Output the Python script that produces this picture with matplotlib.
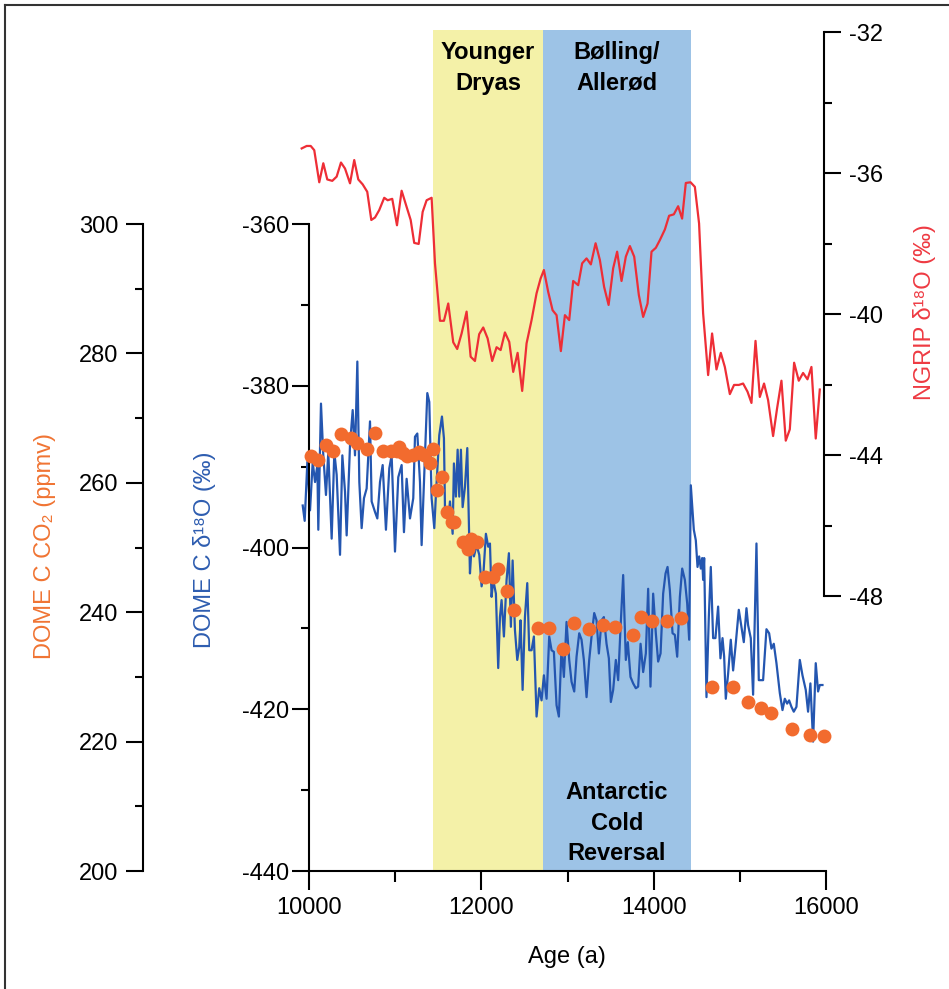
import matplotlib
matplotlib.use('Agg')
import matplotlib.pyplot as plt
from matplotlib.lines import Line2D

plt.rcParams['font.family'] = ['Liberation Sans', 'DejaVu Sans']
plt.rcParams['axes.unicode_minus'] = False

# DOME C d18O (blue line)
blue_age = [9927, 9950, 9981, 10012, 10043, 10070, 10097, 10108, 10139, 10166,
            10197, 10224, 10263, 10294, 10321, 10360, 10387, 10418, 10437, 10476,
            10507, 10534, 10561, 10584, 10611, 10638, 10669, 10708, 10727, 10766,
            10793, 10824, 10855, 10893, 10932, 10959, 10998, 11036, 11075, 11102,
            11133, 11172, 11210, 11230, 11257, 11288, 11307, 11338, 11373, 11396,
            11423, 11454, 11473, 11512, 11543, 11566,
            11578, 11616, 11636, 11667, 11682, 11705, 11725, 11744, 11763, 11783,
            11810, 11837, 11868, 11887, 11914, 11945, 11976, 12003, 12022, 12053,
            12080, 12100, 12119, 12138, 12169, 12196, 12216, 12235, 12262, 12293,
            12320, 12343, 12363, 12390, 12417, 12440, 12455, 12479, 12506, 12533,
            12556, 12583, 12610, 12641, 12672, 12699, 12726, 12757, 12788, 12815,
            12842, 12873, 12900, 12931, 12958, 12989, 13020, 13047, 13078, 13105,
            13136, 13163, 13190, 13221, 13252, 13279, 13310, 13337, 13364, 13395,
            13422, 13453, 13480, 13503, 13530, 13561, 13588, 13616, 13646, 13677,
            13700, 13731, 13762, 13793, 13820, 13848, 13878, 13909, 13936, 13963,
            13994, 14025, 14052, 14080, 14110, 14138, 14161, 14188, 14219, 14246,
            14273, 14304, 14331, 14362, 14389, 14412, 14431,
            14466, 14489, 14509, 14528, 14547, 14563, 14574, 14586, 14613, 14640,
            14663, 14690, 14717, 14748, 14775, 14799, 14818, 14837, 14864, 14895,
            14922, 14949, 14988, 15019, 15046, 15077, 15096, 15127, 15154, 15193,
            15220, 15270, 15309, 15340, 15367, 15394, 15425, 15464, 15495, 15522,
            15549, 15572, 15599, 15626, 15657, 15696, 15727, 15765, 15792, 15819,
            15850, 15881, 15908, 15928, 15959]
blue_d18o = [-394.8, -396.7, -389.4, -395.4, -389.4, -391.9, -389.8, -397.8, -382.2, -388.6,
             -393.5, -388.2, -398.9, -388.2, -391.0, -400.9, -388.6, -393.1, -398.5, -387.3,
             -383.0, -388.6, -377.0, -391.9, -397.6, -393.9, -392.7, -384.4, -394.3, -395.6,
             -396.4, -391.9, -389.8, -397.8, -390.2, -388.6, -400.5, -391.3, -389.8, -398.1,
             -391.5, -396.4, -393.9, -386.3, -385.9, -391.9, -399.7, -391.0, -380.9, -382.0,
             -393.9, -397.6, -393.5, -386.1, -383.8, -386.5,
             -395.0, -396.6, -394.3, -398.3, -389.6, -393.7, -387.9, -393.7, -387.9, -395.0,
             -392.5, -387.7, -403.2, -399.9, -401.1, -399.7, -400.9, -404.8, -403.6, -398.3,
             -399.9, -399.5, -406.1, -404.0, -405.7, -414.9, -408.6, -406.5, -411.0, -404.0,
             -400.7, -409.8, -401.6, -410.2, -413.9, -412.3, -409.0, -417.6, -408.6, -404.4,
             -412.7, -412.7, -411.0, -420.9, -417.4, -418.9, -415.8, -418.7, -411.0, -412.7,
             -412.9, -419.5, -420.9, -412.3, -416.0, -409.2, -413.9, -416.6, -417.8, -413.5,
             -410.6, -411.4, -413.9, -418.5, -413.9, -411.0, -408.1, -409.0, -413.1, -409.0,
             -408.6, -411.9, -413.7, -419.1, -417.6, -413.9, -416.4, -409.8, -403.4, -413.9,
             -411.7, -416.0, -416.8, -417.4, -417.2, -411.9, -415.4, -413.1, -405.1, -417.2,
             -405.7, -410.6, -414.1, -413.1, -405.7, -403.2, -402.4, -405.3, -410.6, -410.8,
             -413.5, -406.1, -402.6, -404.0, -406.9, -411.4, -392.3,
             -397.8, -399.1, -402.4, -401.1, -402.6, -401.3, -404.0, -401.3, -418.5, -408.6,
             -402.4, -411.2, -411.2, -407.3, -413.7, -411.2, -413.5, -418.7, -415.6, -411.4,
             -415.2, -412.3, -407.7, -409.8, -411.7, -407.5, -409.6, -411.2, -418.2, -399.5,
             -416.4, -416.4, -410.1, -410.6, -412.5, -411.9, -414.3, -418.0, -420.1, -418.7,
             -419.3, -418.9, -419.7, -420.3, -419.7, -413.9, -415.8, -417.6, -420.3, -416.8,
             -424.0, -414.3, -417.8, -417.0, -417.0]

# NGRIP d18O (red line)
ngrip_age = [9915, 9973, 10020, 10061, 10119, 10166, 10212, 10270, 10321, 10371,
             10418, 10476, 10525, 10572, 10623, 10676, 10723, 10766, 10815, 10873,
             10913, 10966, 11021, 11075, 11133, 11180, 11221, 11273, 11319, 11365,
             11423, 11462, 11520, 11566, 11616, 11674, 11720, 11771, 11829, 11876,
             11926, 11975, 12022, 12073, 12126, 12177, 12224, 12274, 12324, 12370,
             12421, 12474, 12525, 12583, 12641, 12688, 12726, 12776, 12827, 12873,
             12923, 12970, 13020, 13066, 13124, 13170, 13221, 13271, 13326, 13376,
             13425, 13477, 13530, 13576, 13627, 13677, 13724, 13774, 13828, 13878,
             13929, 13975, 14025, 14072, 14130, 14179, 14234, 14284, 14330, 14373,
             14428, 14478, 14527, 14574, 14632, 14678, 14729, 14779, 14826, 14884,
             14933, 14988, 15038, 15089, 15135, 15182, 15232, 15281, 15328, 15386,
             15432, 15483, 15533, 15580, 15630, 15684, 15734, 15785, 15831, 15881,
             15928]
ngrip_d18o = [-35.30, -35.23, -35.23, -35.35, -36.26, -35.72, -36.18, -36.22, -36.10, -35.70,
              -35.87, -36.29, -35.63, -36.18, -36.32, -36.53, -37.33, -37.26, -37.05, -36.70,
              -36.77, -36.73, -37.48, -36.50, -36.96, -37.33, -37.98, -38.01, -37.10, -36.77,
              -36.70, -38.56, -40.19, -40.19, -39.70, -40.80, -40.99, -40.55, -39.93, -41.21,
              -41.33, -40.57, -40.38, -40.69, -41.33, -40.94, -41.02, -40.52, -40.79, -41.64,
              -41.10, -42.18, -40.83, -40.17, -39.41, -38.99, -38.75, -39.37, -39.89, -40.03,
              -41.05, -40.03, -40.17, -39.06, -39.18, -38.56, -38.42, -38.59, -37.99, -38.47,
              -39.23, -39.74, -38.70, -38.23, -39.06, -38.37, -38.07, -38.37, -39.46, -40.08,
              -39.70, -38.23, -38.12, -37.90, -37.60, -37.21, -37.17, -36.94, -37.29, -36.28,
              -36.26, -36.39, -37.43, -39.98, -41.73, -40.55, -41.57, -41.10, -41.50, -42.27,
              -42.01, -42.01, -41.97, -42.20, -42.52, -40.76, -42.35, -41.97, -42.44, -43.46,
              -42.68, -41.89, -43.59, -43.27, -41.38, -41.89, -41.67, -41.85, -41.50, -43.53,
              -42.14]

# DOME C CO2 (orange dots)
co2_age = [10023, 10108, 10197, 10275, 10368, 10484, 10560, 10673, 10766, 10858,
           10951, 11017, 11047, 11094, 11140, 11210, 11279, 11337, 11404, 11435,
           11481, 11539, 11604, 11655, 11682, 11790, 11848, 11879, 11945, 12042,
           12131, 12196, 12300, 12381, 12653, 12788, 12943, 13071, 13252, 13407,
           13553, 13758, 13848, 13979, 14153, 14323, 14678, 14922, 15096, 15247,
           15367, 15603, 15820, 15974]
co2_ppmv = [264.1, 263.5, 265.8, 265.0, 267.5, 267.0, 266.1, 265.2, 267.7, 264.9,
            264.9, 264.9, 265.5, 264.6, 264.1, 264.3, 264.7, 264.3, 263.1, 265.3,
            258.9, 260.9, 255.5, 253.9, 253.9, 250.8, 249.8, 251.3, 250.8, 245.4,
            245.4, 246.7, 243.3, 240.3, 237.6, 237.6, 234.3, 238.3, 237.4, 238.0,
            237.7, 236.5, 239.3, 238.7, 238.7, 239.1, 228.5, 228.4, 226.1, 225.2,
            224.5, 222.0, 221.0, 220.9]

# climate periods (start, end)
yd_span = (11440, 12715)
ba_span = (12715, 14430)

W, H = 949, 989
fig = plt.figure(figsize=(W / 100, H / 100), dpi=100)

ax = fig.add_axes([309 / W, 1 - 871 / H, 517 / W, 841 / H])
ax.patch.set_alpha(0)

ax.axvspan(*yd_span, color='#f4f1a8', lw=0, zorder=0)
ax.axvspan(*ba_span, color='#9dc3e6', lw=0, zorder=0)
ax.plot(blue_age, blue_d18o, color='#2456b0', lw=1.6, clip_on=False, zorder=2)

ax.set_xlim(10000, 16000)
ax.set_ylim(-440, -336)
for s in ['top', 'right']:
    ax.spines[s].set_visible(False)
ax.spines['left'].set_bounds(-440, -360)
ax.spines['left'].set_linewidth(1.5)
ax.spines['bottom'].set_linewidth(1.5)
ax.set_xticks([10000, 12000, 14000, 16000])
ax.set_xticks([11000, 13000, 15000], minor=True)
ax.set_yticks([-440, -420, -400, -380, -360])
ax.set_yticks([-430, -410, -390, -370], minor=True)
ax.tick_params(axis='x', which='major', length=14, width=1.5, labelsize=17, pad=5)
ax.tick_params(axis='x', which='minor', length=8, width=1.5)
ax.tick_params(axis='y', which='major', length=12, width=1.5, labelsize=17, pad=2)
ax.tick_params(axis='y', which='minor', length=6, width=1.5)

ctr_yd = sum(yd_span) / 2
ctr_ba = sum(ba_span) / 2
tb = ax.get_xaxis_transform()
ax.text(ctr_yd, 0.955, 'Younger\nDryas', transform=tb, ha='center', va='center',
        fontsize=17, fontweight='bold', linespacing=1.45)
ax.text(ctr_ba, 0.955, 'Bølling/\nAllerød', transform=tb, ha='center', va='center',
        fontsize=17, fontweight='bold', linespacing=1.45)
ax.text(ctr_ba, 0.057, 'Antarctic\nCold\nReversal', transform=tb, ha='center', va='center',
        fontsize=17, fontweight='bold', linespacing=1.4)

# CO2 axis, far left
ax2 = ax.twinx()
ax2.plot(co2_age, co2_ppmv, 'o', color='#f26b2e', ms=10, mew=0, clip_on=False, zorder=3)
ax2.set_ylim(200, 330)
for s in ['top', 'right', 'bottom']:
    ax2.spines[s].set_visible(False)
ax2.spines['left'].set_visible(True)
ax2.spines['left'].set_position(('axes', -0.321))
ax2.spines['left'].set_bounds(200, 300)
ax2.spines['left'].set_linewidth(1.5)
ax2.yaxis.set_ticks_position('left')
ax2.set_yticks(range(200, 301, 20))
ax2.set_yticks(range(210, 300, 20), minor=True)
ax2.tick_params(axis='y', which='major', length=12, width=1.5, labelsize=17, pad=6)
ax2.tick_params(axis='y', which='minor', length=6, width=1.5)

# NGRIP axis, right
ax3 = ax.twinx()
ax3.plot(ngrip_age, ngrip_d18o, color='#ee2e36', lw=1.6, clip_on=False, zorder=3)
ax3.set_ylim(-55.8, -31.94)
for s in ['top', 'left', 'bottom']:
    ax3.spines[s].set_visible(False)
ax3.spines['right'].set_position(('axes', 0.996))
ax3.spines['right'].set_bounds(-48, -32)
ax3.spines['right'].set_linewidth(1.5)
ax3.set_yticks([-48, -44, -40, -36, -32])
ax3.set_yticks([-46, -42, -38, -34], minor=True)
ax3.tick_params(axis='y', which='major', length=12, width=1.5, labelsize=17, pad=6)
ax3.tick_params(axis='y', which='minor', length=6, width=1.5)

# axis titles
fig.text(45 / W, 1 - 546 / H, 'DOME C CO₂ (ppmv)', color='#f07433', fontsize=17,
         rotation=90, ha='center', va='center')
fig.text(205 / W, 1 - 550 / H, 'DOME C δ¹⁸O (‰)', color='#2e5db0', fontsize=17,
         rotation=90, ha='center', va='center')
fig.text(925 / W, 1 - 312 / H, 'NGRIP δ¹⁸O (‰)', color='#ee3a42', fontsize=17,
         rotation=90, ha='center', va='center')
fig.text(567 / W, 1 - 957 / H, 'Age (a)', fontsize=17, ha='center', va='center')

# frame (top and left edge only)
fig.add_artist(Line2D([5 / W, 5 / W], [0, 1 - 5 / H], color='#333333', lw=1.5))
fig.add_artist(Line2D([5 / W, 1], [1 - 5 / H, 1 - 5 / H], color='#333333', lw=1.5))

fig.savefig('out.png', dpi=100)
